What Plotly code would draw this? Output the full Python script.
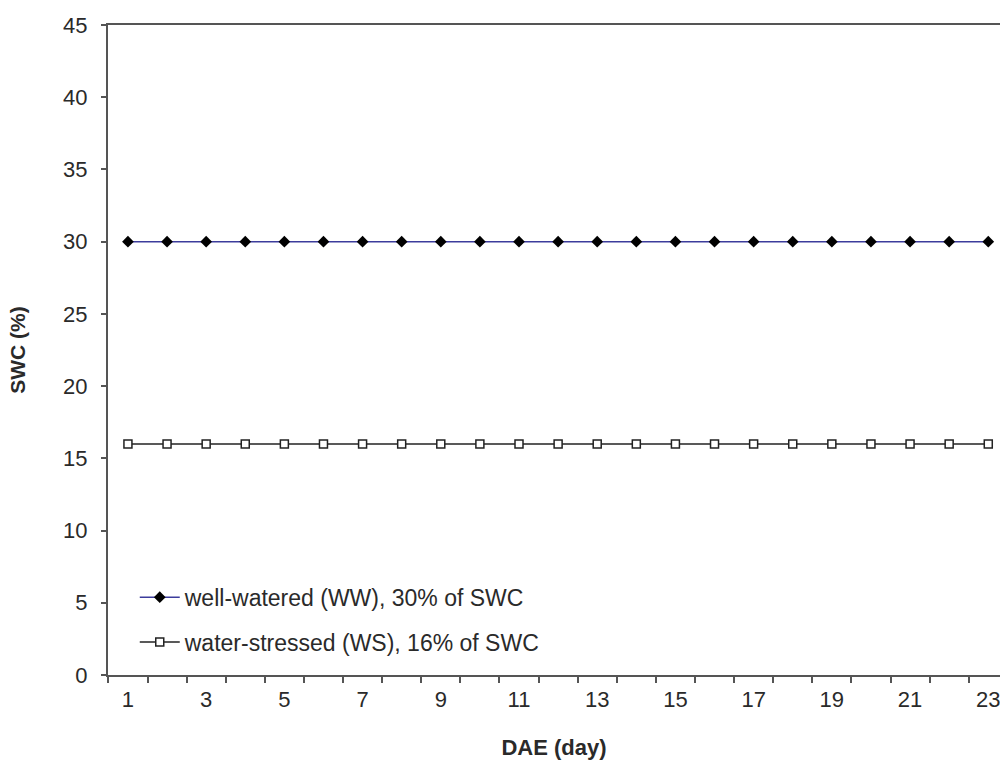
import plotly.graph_objects as go

days = [1, 2, 3, 4, 5, 6, 7, 8, 9, 10, 11, 12, 13, 14, 15, 16, 17, 18, 19, 20, 21, 22, 23]
ww = [30, 30, 30, 30, 30, 30, 30, 30, 30, 30, 30, 30, 30, 30, 30, 30, 30, 30, 30, 30, 30, 30, 30]
ws = [16, 16, 16, 16, 16, 16, 16, 16, 16, 16, 16, 16, 16, 16, 16, 16, 16, 16, 16, 16, 16, 16, 16]
x_ticks = [1, 3, 5, 7, 9, 11, 13, 15, 17, 19, 21, 23]
y_ticks = [0, 5, 10, 15, 20, 25, 30, 35, 40, 45]

font = "Liberation Sans, Arial, sans-serif"

fig = go.Figure()
fig.add_trace(go.Scatter(
    x=days, y=ww, mode="lines+markers", name="well-watered (WW), 30% of SWC",
    line=dict(color="#3c3c9c", width=1.5),
    marker=dict(symbol="diamond", size=9, color="black"),
    legendgroup="a",
))
fig.add_trace(go.Scatter(
    x=days, y=ws, mode="lines+markers", name="water-stressed (WS), 16% of SWC",
    line=dict(color="#222222", width=1.5),
    marker=dict(symbol="square", size=8, color="white", line=dict(color="#222222", width=1.5)),
    legendgroup="b",
))

fig.update_layout(
    width=1000, height=763,
    margin=dict(l=108, r=0, t=25, b=88),
    plot_bgcolor="white", paper_bgcolor="white",
    font=dict(family=font, size=22, color="#2a2a2a"),
    showlegend=True,
    legend=dict(
        x=0.03, y=0.085, xanchor="left", yanchor="middle",
        bgcolor="rgba(0,0,0,0)", tracegroupgap=12,
        font=dict(family=font, size=23, color="#2a2a2a"),
        itemwidth=40,
    ),
    xaxis=dict(
        range=[0.49, 23.3],
        tickmode="array", tickvals=x_ticks, ticktext=[str(v) for v in x_ticks],
        ticks="", showgrid=False, zeroline=False,
        showline=True, linecolor="#555555", linewidth=2, mirror=True,
        minor=dict(tickmode="linear", tick0=0.5, dtick=1, ticks="outside",
                   ticklen=6, tickwidth=2, tickcolor="#555555", showgrid=False),
        title=dict(text="<b>DAE (day)</b>", font=dict(size=22), standoff=28),
        ticklabelstandoff=4,
        ticklabeloverflow="allow",
    ),
    yaxis=dict(
        range=[0, 45],
        tickmode="array", tickvals=y_ticks,
        ticks="outside", ticklen=5, tickwidth=2, tickcolor="#555555",
        showgrid=False, zeroline=False,
        showline=True, linecolor="#555555", linewidth=2,
        title=dict(text="<b>SWC (%)</b>", font=dict(size=21), standoff=32),
        ticklabelstandoff=9,
    ),
)

fig.write_html(
    "out.html",
    config={"displayModeBar": False},
    post_script="document.body.style.margin='0';document.body.style.overflow='hidden';",
)
